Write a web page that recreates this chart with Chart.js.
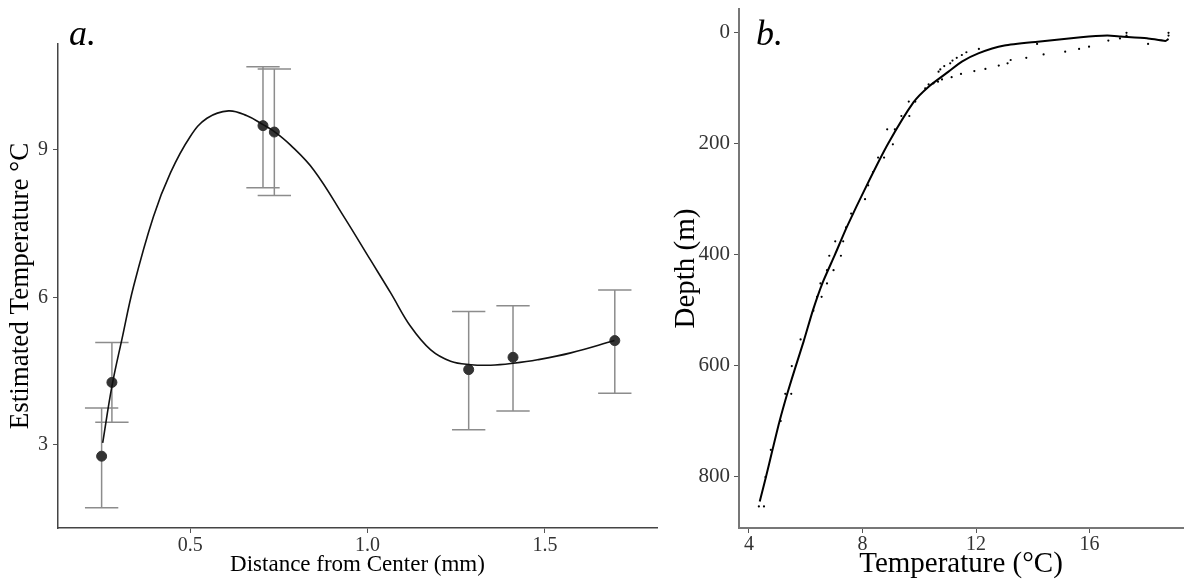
<!DOCTYPE html>
<html>
<head>
<meta charset="utf-8">
<script src="https://cdn.jsdelivr.net/npm/chart.js@4.4.1/dist/chart.umd.min.js"></script>
<style>
  html, body { margin: 0; padding: 0; background: #fff; }
  #wrap { position: relative; width: 1187px; height: 583px; overflow: hidden; }
  .panel { position: absolute; top: 0; height: 583px; }
  #panelA { left: 0; width: 665px; }
  #panelB { left: 665px; width: 522px; }
  .tag { position: absolute; font-family: "Liberation Serif", serif; font-style: italic; font-size: 36px; line-height: 1; color: #000; }
</style>
</head>
<body>
<div id="wrap">
  <div class="panel" id="panelA"><canvas id="otolithChart"></canvas></div>
  <div class="panel" id="panelB"><canvas id="profileChart"></canvas></div>
  <div class="tag" style="left:69px; top:15px;">a.</div>
  <div class="tag" style="left:756px; top:15px;">b.</div>
</div>
<script>
// a. estimated temperature along the otolith
const distance = [0.25, 0.279, 0.705, 0.737, 1.285, 1.41, 1.697];
const estTemp = [2.77, 4.27, 9.49, 9.36, 4.53, 4.78, 5.12];
const tempLow = [1.72, 3.46, 8.23, 8.07, 3.31, 3.69, 4.05];
const tempHigh = [3.75, 5.08, 10.69, 10.64, 5.71, 5.83, 6.15];

// smoothed fit through the estimates
const fitDistance = [0.253, 0.279, 0.307, 0.34, 0.396, 0.444, 0.5, 0.547, 0.608, 0.66, 0.705, 0.737, 0.782, 0.848, 0.933, 1.008, 1.065, 1.121, 1.178, 1.234, 1.291, 1.347, 1.411, 1.479, 1.573, 1.696];
const fitTemp = [3.04, 4.19, 5.14, 6.22, 7.64, 8.53, 9.27, 9.64, 9.79, 9.69, 9.51, 9.37, 9.1, 8.59, 7.64, 6.76, 6.09, 5.41, 4.93, 4.70, 4.63, 4.62, 4.66, 4.73, 4.87, 5.12];

const distanceTicks = [0.5, 1.0, 1.5];
const tempTicks = [3, 6, 9];

// b. CTD temperature profile
const profileTemp = [17.3, 17.3, 18.78, 18.78, 17.07, 16.66, 18.06, 14.15, 15.98, 15.63, 12.1, 15.14, 11.66, 14.38, 11.5, 13.77, 11.32, 13.22, 11.17, 13.11, 11.09, 12.8, 10.88, 12.33, 10.74, 11.94, 10.68, 11.47, 11.14, 10.8, 10.66, 10.5, 10.33, 10.21, 9.86, 9.63, 9.65, 9.37, 9.14, 8.87, 9.07, 8.76, 8.55, 8.37, 8.2, 8.09, 7.6, 7.42, 7.32, 7.04, 7.24, 6.83, 6.98, 6.75, 6.75, 6.52, 6.56, 6.4, 6.27, 5.82, 5.51, 5.28, 5.49, 5.12, 4.77, 4.58, 4.35, 4.53];
const profileDepth = [0, 5, 0, 5, 10, 14, 20, 20, 25, 29, 29, 34, 35, 39, 40, 45, 45, 49, 50, 55, 55, 59, 60, 65, 66, 69, 70, 74, 80, 84, 88, 91, 93, 100, 124, 124, 150, 150, 174, 174, 201, 225, 225, 251, 275, 300, 326, 351, 376, 376, 402, 402, 428, 428, 452, 452, 476, 476, 501, 553, 601, 651, 651, 700, 752, 801, 854, 854];

const smoothTemp = [4.38, 4.59, 4.83, 5.08, 5.36, 5.65, 5.93, 6.25, 6.6, 7.03, 7.45, 8.15, 8.9, 9.8, 10.33, 11.03, 11.5, 12.08, 13.0, 14.17, 15.69, 16.62, 17.1, 18.02, 18.67, 18.78];
const smoothDepth = [845, 803, 752, 700, 649, 601, 556, 501, 450, 400, 350, 275, 200, 125, 97, 70, 52, 37, 23, 16, 8, 5, 6.6, 9.6, 14.5, 11];

const profileTempTicks = [4, 8, 12, 16];
const depthTicks = [0, 200, 400, 600, 800];

const serif = '"Liberation Serif", "Times New Roman", serif';

function pairs(xs, ys) {
    return xs.map(function (v, i) { return { x: v, y: ys[i] }; });
}

function fixedTicks(list) {
    return function (scale) {
        scale.ticks = list.map(function (v) { return { value: v }; });
    };
}

// pin axis box sizes so the plot area lands where it should
function fixWidth(w) {
    return function (s) {
        s.width = w;
        s.paddingTop = 0; s.paddingBottom = 0; s.paddingLeft = 0; s.paddingRight = 0;
    };
}
function fixHeight(h) {
    return function (s) {
        s.height = h;
        s.paddingTop = 0; s.paddingBottom = 0; s.paddingLeft = 0; s.paddingRight = 0;
    };
}

// vertical error bars with caps, drawn under the points
const errorBars = {
    id: 'errorBars',
    beforeDatasetsDraw: function (chart) {
        const ctx = chart.ctx;
        const x = chart.scales.x;
        const y = chart.scales.y;
        const capHalf = 0.047;
        ctx.save();
        ctx.strokeStyle = '#8c8c8c';
        ctx.lineWidth = 1.5;
        distance.forEach(function (d, i) {
            const px = x.getPixelForValue(d);
            const pl = x.getPixelForValue(d - capHalf);
            const pr = x.getPixelForValue(d + capHalf);
            const lo = y.getPixelForValue(tempLow[i]);
            const hi = y.getPixelForValue(tempHigh[i]);
            ctx.beginPath();
            ctx.moveTo(px, lo);
            ctx.lineTo(px, hi);
            ctx.moveTo(pl, lo);
            ctx.lineTo(pr, lo);
            ctx.moveTo(pl, hi);
            ctx.lineTo(pr, hi);
            ctx.stroke();
        });
        ctx.restore();
    }
};

new Chart(document.getElementById('otolithChart'), {
    type: 'scatter',
    data: {
        datasets: [{
            label: 'fit',
            data: pairs(fitDistance, fitTemp),
            showLine: true,
            borderColor: '#111',
            borderWidth: 1.6,
            pointRadius: 0,
            tension: 0.4
        }, {
            label: 'estimate',
            data: pairs(distance, estTemp),
            backgroundColor: '#333',
            borderColor: '#333',
            pointRadius: 5
        }]
    },
    options: {
        responsive: true,
        maintainAspectRatio: false,
        animation: false,
        layout: { padding: { top: 44, right: 8, left: 0, bottom: 0 } },
        plugins: { legend: { display: false }, tooltip: { enabled: false } },
        scales: {
            x: {
                type: 'linear',
                min: 0.127,
                max: 1.816,
                afterBuildTicks: fixedTicks(distanceTicks),
                afterFit: fixHeight(55),
                grid: { drawOnChartArea: false, drawTicks: true, tickLength: 5, color: '#555', lineWidth: 1 },
                border: { display: true, color: '#444', width: 1.5 },
                ticks: {
                    padding: 1,
                    color: '#333',
                    font: { family: serif, size: 20 },
                    callback: function (v) { return v.toFixed(1); }
                },
                title: {
                    display: true,
                    text: 'Distance from Center (mm)',
                    color: '#000',
                    font: { family: serif, size: 23 },
                    padding: { top: 0, bottom: 4 }
                }
            },
            y: {
                type: 'linear',
                min: 1.31,
                max: 11.15,
                afterBuildTicks: fixedTicks(tempTicks),
                afterFit: fixWidth(58),
                grid: { drawOnChartArea: false, drawTicks: true, tickLength: 5, color: '#555', lineWidth: 1 },
                border: { display: true, color: '#444', width: 1.5 },
                ticks: {
                    padding: 5,
                    color: '#333',
                    font: { family: serif, size: 20 }
                },
                title: {
                    display: true,
                    text: 'Estimated Temperature °C',
                    color: '#000',
                    font: { family: serif, size: 27 },
                    padding: { top: 5, bottom: 0 }
                }
            }
        }
    },
    plugins: [errorBars]
});

new Chart(document.getElementById('profileChart'), {
    type: 'scatter',
    data: {
        datasets: [{
            label: 'CTD',
            data: pairs(profileTemp, profileDepth),
            backgroundColor: '#000',
            borderColor: '#000',
            pointRadius: 1.1,
            borderWidth: 0
        }, {
            label: 'smooth',
            data: pairs(smoothTemp, smoothDepth),
            showLine: true,
            borderColor: '#000',
            borderWidth: 2,
            pointRadius: 0,
            tension: 0.2
        }]
    },
    options: {
        responsive: true,
        maintainAspectRatio: false,
        animation: false,
        layout: { padding: { top: 9, right: 1, left: 0, bottom: 0 } },
        plugins: { legend: { display: false }, tooltip: { enabled: false } },
        scales: {
            x: {
                type: 'linear',
                min: 3.65,
                max: 19.29,
                afterBuildTicks: fixedTicks(profileTempTicks),
                afterFit: fixHeight(55),
                grid: { drawOnChartArea: false, drawTicks: true, tickLength: 5, color: '#555', lineWidth: 1 },
                border: { display: true, color: '#777', width: 2 },
                ticks: {
                    padding: 0,
                    color: '#333',
                    font: { family: serif, size: 20 }
                },
                title: {
                    display: true,
                    text: 'Temperature (°C)',
                    color: '#000',
                    font: { family: serif, size: 29 },
                    padding: { top: 0, bottom: 1 }
                }
            },
            y: {
                type: 'linear',
                reverse: true,
                min: -43,
                max: 893,
                afterBuildTicks: fixedTicks(depthTicks),
                afterFit: fixWidth(74),
                grid: { drawOnChartArea: false, drawTicks: true, tickLength: 5, color: '#555', lineWidth: 1 },
                border: { display: true, color: '#777', width: 2 },
                ticks: {
                    padding: 4,
                    color: '#333',
                    font: { family: serif, size: 21 }
                },
                title: {
                    display: true,
                    text: 'Depth (m)',
                    color: '#000',
                    font: { family: serif, size: 29 },
                    padding: { top: 4, bottom: 0 }
                }
            }
        }
    }
});
</script>
</body>
</html>
